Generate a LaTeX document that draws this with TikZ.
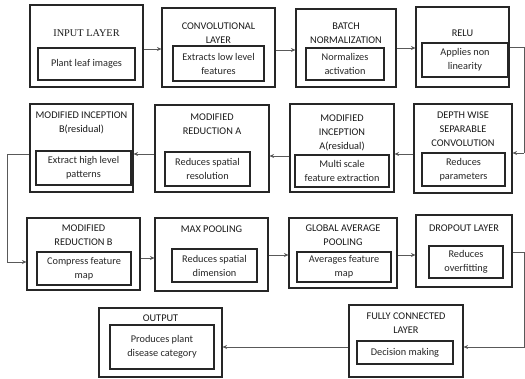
\documentclass[tikz,border=0pt]{standalone}
\usepackage{fontspec}
\setmainfont{Carlito}
\newfontfamily\seriffont{Liberation Serif}
\usetikzlibrary{arrows.meta}
\begin{document}
\begin{tikzpicture}[x=1pt,y=-1pt,
  outerbox/.style={draw=black!85,line width=1.1pt,inner sep=0pt},
  innerbox/.style={draw=black!85,line width=1.1pt,inner sep=0pt,align=center,text=black!85,font=\fontsize{10.3}{14}\selectfont},
  titletext/.style={align=center,inner sep=0pt,text=black!90,font=\fontsize{10.3}{14}\selectfont},
  conn/.style={draw=black!65,line width=0.7pt,-{Stealth[length=4.5pt,width=4pt]}},
  plain/.style={draw=black!65,line width=0.7pt}]
\useasboundingbox (0,0) rectangle (525,378);
% Row 1
\node[outerbox,minimum width=113pt,minimum height=82pt] (inp) at (86.5,46) {};
\node[innerbox,minimum width=97pt,minimum height=32pt] (inpI) at (86.5,64) {Plant leaf images};
\node[titletext,font=\seriffont\fontsize{10.3}{14}\selectfont] (inpT) at (86.5,33) {INPUT LAYER};

\node[outerbox,minimum width=113pt,minimum height=79pt] (conv) at (218.5,47.5) {};
\node[innerbox,minimum width=91pt,minimum height=35pt] (convI) at (218.5,63.5) {Extracts low level\\features};
\node[titletext] (convT) at (218.5,33.5) {CONVOLUTIONAL\\LAYER};

\node[outerbox,minimum width=100pt,minimum height=78pt] (bn) at (346,48) {};
\node[innerbox,minimum width=78pt,minimum height=32pt] (bnI) at (345,64) {Normalizes\\activation};
\node[titletext] (bnT) at (346,33.5) {BATCH\\NORMALIZATION};

\node[outerbox,minimum width=93pt,minimum height=80pt] (relu) at (462.5,47) {};
\node[innerbox,minimum width=86pt,minimum height=34pt] (reluI) at (465,60) {Applies non\\linearity};
\node[titletext] (reluT) at (462.5,33) {RELU};

% Row 2
\node[outerbox,minimum width=103pt,minimum height=88pt] (incB) at (81.5,148) {};
\node[innerbox,minimum width=95pt,minimum height=34pt] (incBI) at (83.5,168) {Extract high level\\patterns};
\node[titletext] (incBT) at (81.5,123) {MODIFIED INCEPTION\\B(residual)};

\node[outerbox,minimum width=114pt,minimum height=87pt] (redA) at (212,148.5) {};
\node[innerbox,minimum width=85pt,minimum height=34pt] (redAI) at (207.5,169) {Reduces spatial\\resolution};
\node[titletext] (redAT) at (212,124.5) {MODIFIED\\REDUCTION A};

\node[outerbox,minimum width=104pt,minimum height=88pt] (incA) at (342,148) {};
\node[innerbox,minimum width=94pt,minimum height=32pt] (incAI) at (342,171) {Multi scale\\feature extraction};
\node[titletext] (incAT) at (342,133) {MODIFIED\\INCEPTION\\A(residual)};

\node[outerbox,minimum width=98pt,minimum height=89pt] (dws) at (463,148.5) {};
\node[innerbox,minimum width=83pt,minimum height=33pt] (dwsI) at (463.5,169.5) {Reduces\\parameters};
\node[titletext] (dwsT) at (463,129) {DEPTH WISE\\SEPARABLE\\CONVOLUTION};

% Row 3
\node[outerbox,minimum width=113pt,minimum height=72pt] (redB) at (83.5,254) {};
\node[innerbox,minimum width=94pt,minimum height=33pt] (redBI) at (84,268.5) {Compress feature\\map};
\node[titletext] (redBT) at (83.5,235) {MODIFIED\\REDUCTION B};

\node[outerbox,minimum width=113pt,minimum height=73pt] (maxp) at (211.5,254.5) {};
\node[innerbox,minimum width=85pt,minimum height=33pt] (maxpI) at (214.5,265.5) {Reduces spatial\\dimension};
\node[titletext] (maxpT) at (211.5,229) {MAX POOLING};

\node[outerbox,minimum width=108pt,minimum height=70pt] (gap) at (343,253) {};
\node[innerbox,minimum width=94pt,minimum height=30pt] (gapI) at (344,267) {Averages feature\\map};
\node[titletext] (gapT) at (343,235.5) {GLOBAL AVERAGE\\POOLING};

\node[outerbox,minimum width=96pt,minimum height=72pt] (drop) at (464,251) {};
\node[innerbox,minimum width=74pt,minimum height=32pt] (dropI) at (466,262) {Reduces\\overfitting};
\node[titletext] (dropT) at (464,228) {DROPOUT LAYER};

% Row 4
\node[outerbox,minimum width=123pt,minimum height=69pt] (out) at (160.5,342.5) {};
\node[innerbox,minimum width=104pt,minimum height=44pt] (outI) at (162,347) {Produces plant\\disease category};
\node[titletext] (outT) at (160.5,318) {OUTPUT};

\node[outerbox,minimum width=114pt,minimum height=72pt] (fc) at (406,341) {};
\node[innerbox,minimum width=96pt,minimum height=23pt] (fcI) at (405,352.5) {Decision making};
\node[titletext] (fcT) at (406,323) {FULLY CONNECTED\\LAYER};

% free ends at the cropped right and left edges
\coordinate (r1) at (524,47);
\coordinate (r2) at (524,153);
\coordinate (r3) at (524,252);
\coordinate (r4) at (524,347);
\coordinate (l1) at (7,154);
\coordinate (l2) at (7,262);

% connectors
\draw[conn] (inp.east |- {0,49}) -- (conv.west |- {0,49});
\draw[conn] (conv.east |- {0,50}) -- (bn.west |- {0,50});
\draw[conn] (bn.east |- {0,48}) -- (relu.west |- {0,48});
\draw[plain] (relu.east |- r1) -- (r1) -- (r2);
\draw[conn] (r2) -- (dws.east |- r2);
\draw[conn] (dws.west |- {0,154}) -- (incA.east |- {0,154});
\draw[conn] (incA.west |- {0,156}) -- (redA.east |- {0,156});
\draw[conn] (redA.west |- {0,154}) -- (incB.east |- {0,154});
\draw[conn] (incB.west |- l1) -- (l1) -- (l2) -- (redB.west |- l2);
\draw[conn] (redB.east |- {0,258}) -- (maxp.west |- {0,258});
\draw[conn] (maxp.east |- {0,255}) -- (gap.west |- {0,255});
\draw[conn] (gap.east |- {0,255}) -- (drop.west |- {0,255});
\draw[conn] (drop.east |- r3) -- (r3) -- (r4) -- (fc.east |- r4);
\draw[conn] (fc.west |- {0,347}) -- (out.east |- {0,347});
\end{tikzpicture}
\end{document}
